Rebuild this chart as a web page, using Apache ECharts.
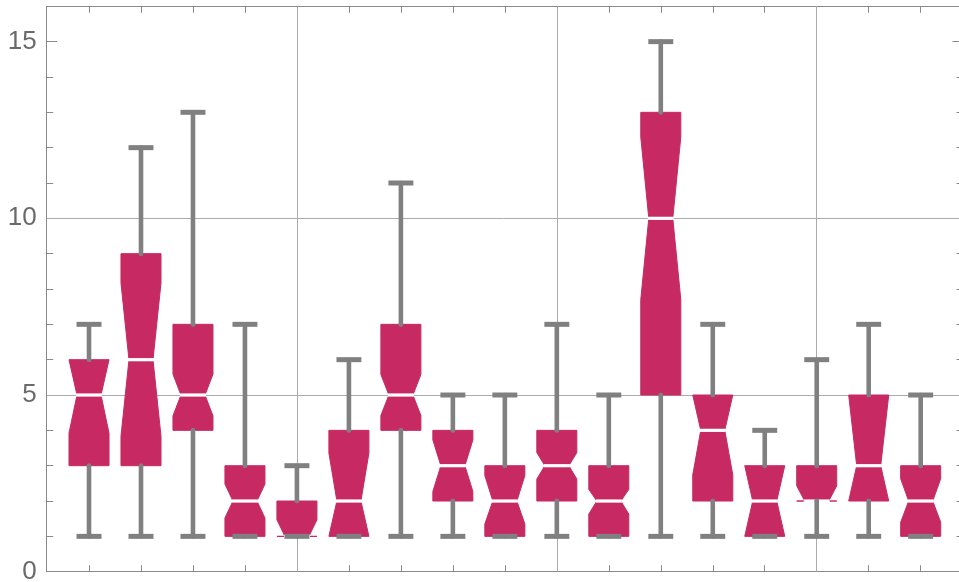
<!DOCTYPE html>
<html>
<head>
<meta charset="utf-8">
<script src="https://cdn.jsdelivr.net/npm/echarts@6/dist/echarts.min.js"></script>
<style>
  html, body { margin: 0; padding: 0; background: #ffffff; }
  #chart { width: 959px; height: 582px; }
</style>
</head>
<body>
<div id="chart"></div>
<script>
// Box positions along the x axis (one notched box per group)
const positions = [1, 2, 3, 4, 5, 6, 7, 8, 9, 10, 11, 12, 13, 14, 15, 16, 17];
// Five-number summaries
const whiskerLow  = [1, 1, 1, 1, 1, 1, 1, 1, 1, 1, 1, 1, 1, 1, 1, 1, 1];
const q1          = [3, 3, 4, 1, 1, 1, 4, 2, 1, 2, 1, 5, 2, 1, 2, 2, 1];
const medians     = [5, 6, 5, 2, 1, 2, 5, 3, 2, 3, 2, 10, 4, 2, 2, 3, 2];
const q3          = [6, 9, 7, 3, 2, 4, 7, 4, 3, 4, 3, 13, 5, 3, 3, 5, 3];
const whiskerHigh = [7, 12, 13, 7, 3, 6, 11, 5, 5, 7, 5, 15, 7, 4, 6, 7, 5];
// Notch limits around each median (clipped to the box when drawn)
const notchLow  = [3.92, 3.83, 4.41, 1.52, 0.53, 0.64, 4.42, 2.27, 1.35, 2.62, 1.63, 7.70, 2.74, 0.90, 1.57, 0.95, 1.40];
const notchHigh = [6.08, 8.17, 5.59, 2.48, 1.47, 3.36, 5.58, 3.73, 2.72, 3.37, 2.33, 12.30, 5.26, 3.10, 2.43, 5.05, 2.63];

// Axis ticks and reference lines
const yMajorTicks = [0, 5, 10, 15];
const yMinorTicks = [1, 2, 3, 4, 6, 7, 8, 9, 11, 12, 13, 14];
const gridX = [5, 10, 15];
const gridY = [5, 10];

const BOX_COLOR = '#C72A63';
const WHISKER_COLOR = '#808080';
const FRAME_COLOR = '#8a8a8a';

const boxData = positions.map((p, i) => [
  p, whiskerLow[i], q1[i], medians[i], q3[i], whiskerHigh[i], notchLow[i], notchHigh[i]
]);

function renderBox(params, api) {
  const x = api.value(0);
  const vMin = api.value(1), vQ1 = api.value(2), vMed = api.value(3);
  const vQ3 = api.value(4), vMax = api.value(5);
  const nLo = Math.max(vQ1, api.value(6));
  const nHi = Math.min(vQ3, api.value(7));

  const unit = api.size([1, 0])[0];
  const half = unit * 0.385;
  const ind = half * 2 * 0.2;
  const capHalf = unit * 0.24;
  const cx = api.coord([x, 0])[0];
  const y = v => api.coord([x, v])[1];

  const L = cx - half, R = cx + half;
  const yMed = y(vMed);
  const points = [
    [L, y(vQ3)], [R, y(vQ3)], [R, y(nHi)], [R - ind, yMed], [R, y(nLo)],
    [R, y(vQ1)], [L, y(vQ1)], [L, y(nLo)], [L + ind, yMed], [L, y(nHi)]
  ];

  const wStyle = { stroke: WHISKER_COLOR, lineWidth: 4.6, lineCap: 'round' };
  const capStyle = { stroke: WHISKER_COLOR, lineWidth: 5, lineCap: 'butt' };

  return {
    type: 'group',
    children: [
      { type: 'polygon', shape: { points: points },
        style: { fill: BOX_COLOR, stroke: BOX_COLOR, lineWidth: 1 } },
      { type: 'rect',
        shape: { x: L + ind - 1, y: yMed - 1.6, width: 2 * (half - ind) + 2, height: 3.2 },
        style: { fill: '#ffffff' } },
      { type: 'line', shape: { x1: cx, y1: y(vQ3), x2: cx, y2: y(vMax) }, style: wStyle },
      { type: 'line', shape: { x1: cx, y1: y(vQ1), x2: cx, y2: y(vMin) }, style: wStyle },
      { type: 'circle', shape: { cx: cx, cy: y(vQ1), r: 2.3 }, style: { fill: WHISKER_COLOR } },
      { type: 'circle', shape: { cx: cx, cy: y(vQ3), r: 2.3 }, style: { fill: WHISKER_COLOR } },
      { type: 'line', shape: { x1: cx - capHalf, y1: y(vMax), x2: cx + capHalf, y2: y(vMax) }, style: capStyle },
      { type: 'line', shape: { x1: cx - capHalf, y1: y(vMin), x2: cx + capHalf, y2: y(vMin) }, style: capStyle }
    ]
  };
}

function xAxisDef(pos) {
  return {
    type: 'value', position: pos, min: 0.186, max: 17.814,
    axisLine: { show: true, onZero: false, lineStyle: { color: FRAME_COLOR, width: 1 } },
    axisTick: { show: true, inside: true, length: 6.5, customValues: positions,
                lineStyle: { color: FRAME_COLOR, width: 1 } },
    axisLabel: { show: false },
    splitLine: { show: false }
  };
}

function yAxisDef(pos, ticks, len, labels) {
  return {
    type: 'value', position: pos, min: 0, max: 16,
    axisLine: { show: true, onZero: false, lineStyle: { color: FRAME_COLOR, width: 1 } },
    axisTick: { show: true, inside: true, length: len, customValues: ticks,
                lineStyle: { color: FRAME_COLOR, width: 1 } },
    axisLabel: labels ? {
      show: true, customValues: yMajorTicks, margin: 10,
      fontFamily: 'Liberation Sans, Arial, sans-serif', fontSize: 26, color: '#6a6a6a'
    } : { show: false },
    splitLine: { show: false }
  };
}

const chart = echarts.init(document.getElementById('chart'), null, { renderer: 'canvas' });
chart.setOption({
  animation: false,
  backgroundColor: '#ffffff',
  grid: {
    left: 46.7, top: 6.3, width: 916.3, height: 565.4,
    containLabel: false, outerBoundsMode: 'none'
  },
  xAxis: [xAxisDef('bottom'), xAxisDef('top')],
  yAxis: [
    yAxisDef('left', yMajorTicks, 10.5, true),
    yAxisDef('left', yMinorTicks, 6.5, false),
    yAxisDef('right', yMajorTicks, 10.5, false),
    yAxisDef('right', yMinorTicks, 6.5, false)
  ],
  series: [
    {
      type: 'line', data: [], z: 1, silent: true,
      markLine: {
        silent: true, symbol: ['none', 'none'], animation: false,
        label: { show: false },
        lineStyle: { color: '#ababab', width: 1, type: 'solid' },
        data: gridX.map(v => ({ xAxis: v })).concat(gridY.map(v => ({ yAxis: v })))
      }
    },
    {
      type: 'custom', z: 5, silent: true,
      renderItem: renderBox,
      encode: { x: 0, y: [1, 2, 3, 4, 5] },
      data: boxData
    }
  ]
});
</script>
</body>
</html>
